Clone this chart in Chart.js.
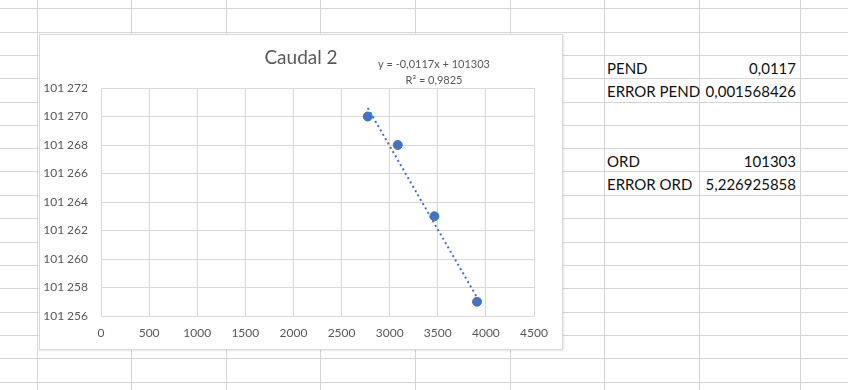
<!DOCTYPE html>
<html>
<head>
<meta charset="utf-8">
<script src="https://cdn.jsdelivr.net/npm/chart.js@4"></script>
<style>
  html, body { margin: 0; padding: 0; background: #fff; }
  #sheet { position: relative; width: 848px; height: 390px; overflow: hidden; font-family: Lato, sans-serif; }
  .vl { position: absolute; top: 0; width: 1px; height: 390px; background: #d5d5d5; }
  .hl { position: absolute; left: 0; height: 1px; width: 848px; background: #d5d5d5; }
  .cell { position: absolute; font-size: 15px; color: #111; line-height: 23px; white-space: nowrap; }
  #box { position: absolute; left: 39px; top: 34px; width: 522px; height: 314px; background: #fff;
         border: 1px solid #d9d9d9; box-shadow: 1px 1px 2px rgba(0,0,0,0.10); }
</style>
</head>
<body>
<div id="sheet">
  <div id="box"><canvas id="myChart"></canvas></div>
</div>
<script>
const chartTitle = 'Caudal 2';
const caudal = [2772, 3084, 3465, 3908]; // eje X
const presion = [101270, 101268, 101263, 101257]; // eje Y
const trendX = [2772, 3908]; // línea de tendencia (extremos)
const trendY = [101270.6, 101257.3];
const trendText = ['y = -0,0117x + 101303', 'R\u00B2 = 0,9825'];

const cellLabels = ['PEND', 'ERROR PEND', 'ORD', 'ERROR ORD'];
const cellValues = ['0,0117', '0,001568426', '101303', '5,226925858'];
const cellRows = [55, 78.3, 148, 171.3];

// cuadrícula de la hoja
const colLines = [37, 131, 226, 320, 415, 510, 604, 699, 800];
const rowLines = [8, 31.7, 55, 78.3, 101.7, 124.7, 148, 171.3, 195, 218.3, 241.7, 265, 288.3, 311.7, 335, 358.3, 381.7];
const sheet = document.getElementById('sheet');
const box = document.getElementById('box');
colLines.forEach(x => {
  const d = document.createElement('div');
  d.className = 'vl'; d.style.left = x + 'px';
  sheet.insertBefore(d, box);
});
rowLines.forEach(y => {
  const d = document.createElement('div');
  d.className = 'hl'; d.style.top = Math.round(y) + 'px';
  sheet.insertBefore(d, box);
});
cellLabels.forEach((t, i) => {
  const a = document.createElement('div');
  a.className = 'cell'; a.textContent = t;
  a.style.left = '607px'; a.style.top = (Math.round(cellRows[i]) + 2) + 'px';
  sheet.appendChild(a);
  const b = document.createElement('div');
  b.className = 'cell'; b.textContent = cellValues[i];
  b.style.right = (848 - 796) + 'px'; b.style.top = (Math.round(cellRows[i]) + 2) + 'px';
  sheet.appendChild(b);
});

const grey = '#595959';
const gridGrey = '#d9d9d9';
const blue = '#4472C4';

// titulo y ecuación de la tendencia
const textos = {
  id: 'textos',
  afterDraw(chart) {
    const c = chart.ctx;
    c.save();
    c.fillStyle = grey;
    c.textAlign = 'center';
    c.textBaseline = 'middle';
    c.font = '19px Lato';
    c.fillText(chartTitle, chart.width / 2, 23);
    c.font = '11px Lato';
    const cx = chart.chartArea.right - 100;
    c.fillText(trendText[0], cx, 29);
    c.fillText(trendText[1], cx, 45);
    c.restore();
  }
};

const ctx = document.getElementById('myChart');
new Chart(ctx, {
  type: 'scatter',
  data: {
    datasets: [
      {
        label: 'Caudal 2',
        data: caudal.map((x, i) => ({ x: x, y: presion[i] })),
        backgroundColor: blue,
        borderColor: blue,
        pointRadius: 4.5,
        order: 1
      },
      {
        label: 'tendencia',
        data: trendX.map((x, i) => ({ x: x, y: trendY[i] })),
        showLine: true,
        borderColor: blue,
        borderWidth: 2,
        borderDash: [2, 3],
        pointRadius: 0,
        order: 2
      }
    ]
  },
  options: {
    responsive: true,
    maintainAspectRatio: false,
    animation: false,
    layout: { padding: { top: 53, right: 28, left: 0, bottom: 0 } },
    plugins: { legend: { display: false }, tooltip: { enabled: false } },
    scales: {
      x: {
        min: 0, max: 4500,
        ticks: { stepSize: 500, color: grey, font: { family: 'Lato', size: 12 }, padding: 10, maxRotation: 0,
                 callback: v => String(v) },
        grid: { color: gridGrey, drawTicks: false },
        border: { color: gridGrey },
        afterFit: s => { s.height = 33; }
      },
      y: {
        min: 101256, max: 101272,
        ticks: {
          stepSize: 2, color: grey, font: { family: 'Lato', size: 12 }, padding: 13,
          callback: v => { const s = String(v); return s.slice(0, 3) + '\u202F' + s.slice(3); }
        },
        grid: { color: gridGrey, drawTicks: false },
        border: { color: gridGrey },
        afterFit: s => { s.width = 61; }
      }
    }
  },
  plugins: [textos]
});
</script>
</body>
</html>
